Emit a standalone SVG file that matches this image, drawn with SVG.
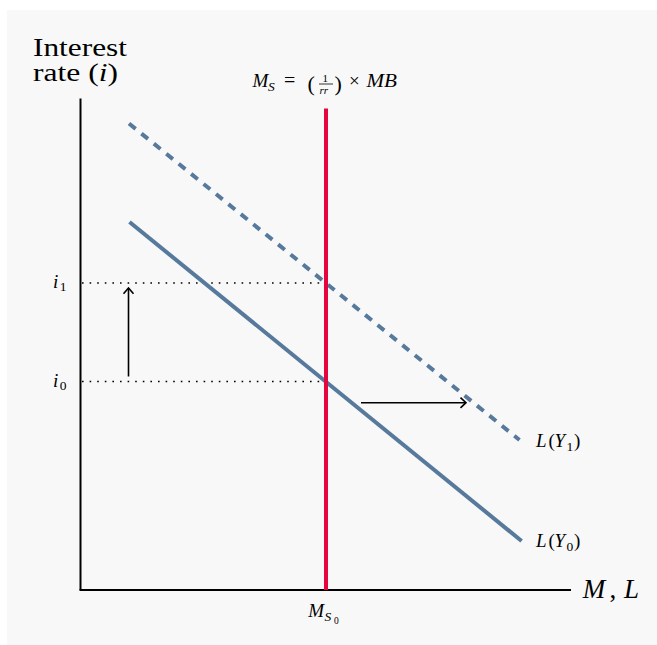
<svg xmlns="http://www.w3.org/2000/svg" width="657" height="645" viewBox="0 0 657 645">
<style>
.t{font-family:"Liberation Serif","Times New Roman",Times,serif;fill:#000}
.it{font-style:italic}
.ax{stroke:#000;stroke-width:2;fill:none}
.dot{stroke:#000;stroke-width:1.6;stroke-dasharray:1.6 6;fill:none}
.arr{stroke:#000;stroke-width:1.6;fill:none}
.blue{stroke:#56799c;stroke-width:4;fill:none}
</style>
<rect x="7" y="10" width="650" height="635" fill="#f8f8f8"/>
<g id="axes">
<line class="ax" x1="80.5" y1="98.5" x2="80.5" y2="590"/>
<line class="ax" x1="79.5" y1="590" x2="571" y2="590"/>
</g>
<g id="guides">
<line class="dot" x1="82" y1="283" x2="326" y2="283"/>
<line class="dot" x1="82" y1="381.5" x2="326" y2="381.5"/>
</g>
<g id="curve-LY1"><line class="blue" x1="129" y1="123.5" x2="519.5" y2="440" stroke-dasharray="8.5 7.5"/></g>
<g id="curve-LY0"><line class="blue" x1="129.5" y1="222" x2="521.6" y2="541"/></g>
<g id="supply"><line x1="326" y1="108.5" x2="326" y2="590" stroke="#e6063f" stroke-width="4"/></g>
<g id="connectors">
<line class="arr" x1="128.5" y1="376.5" x2="128.5" y2="288.5"/>
<polyline class="arr" points="123.5,293.8 128.5,288 133.5,293.8"/>
<line class="arr" x1="361" y1="402.7" x2="465" y2="402.7"/>
<polyline class="arr" points="460.5,397.6 466,402.7 460.5,407.8"/>
</g>
<g id="labels">
<text class="t" x="33" y="56" font-size="25" textLength="94" lengthAdjust="spacingAndGlyphs">Interest</text>
<text class="t" x="33" y="80.5" font-size="25" textLength="85" lengthAdjust="spacingAndGlyphs">rate (<tspan class="it">i</tspan>)</text>
<text class="t it" x="252.5" y="86.7" font-size="19">M</text>
<text class="t it" x="268" y="91" font-size="13.5">S</text>
<text class="t" x="284" y="86.7" font-size="20">=</text>
<text class="t" x="307.5" y="91" font-size="22">(</text>
<text class="t" x="322.5" y="81.5" font-size="11">1</text>
<line x1="319" y1="84" x2="333" y2="84" stroke="#000" stroke-width="0.8"/>
<text class="t it" x="319.5" y="93.5" font-size="11">rr</text>
<text class="t" x="334.5" y="91" font-size="22">)</text>
<text class="t" x="349" y="86.7" font-size="19">×</text>
<text class="t it" x="366.5" y="86.7" font-size="19" textLength="30.5" lengthAdjust="spacingAndGlyphs">MB</text>
<text class="t it" x="53" y="288.3" font-size="19">i</text>
<text class="t" x="59.8" y="291" font-size="13.5">1</text>
<text class="t it" x="53" y="386.8" font-size="19">i</text>
<text class="t" x="59.8" y="389.5" font-size="13.5">0</text>
<text class="t" y="447.3" font-size="19"><tspan class="it" x="536">L</tspan><tspan x="548.5">(</tspan><tspan class="it" x="554.5">Y</tspan><tspan x="566.5" y="451" font-size="13.5">1</tspan><tspan x="574" y="447.3">)</tspan></text>
<text class="t" y="547" font-size="19"><tspan class="it" x="536">L</tspan><tspan x="548.5">(</tspan><tspan class="it" x="554.5">Y</tspan><tspan x="566.5" y="550.7" font-size="13.5">0</tspan><tspan x="574" y="547">)</tspan></text>
<text class="t" y="598.3" font-size="27"><tspan class="it" x="582.7">M</tspan><tspan x="609.5">,</tspan><tspan class="it" x="624">L</tspan></text>
<text class="t it" x="308.3" y="616.7" font-size="19">M</text>
<text class="t it" x="324.5" y="621" font-size="13.5">S</text>
<text class="t" x="334" y="624" font-size="9.5">0</text>
</g>
</svg>
